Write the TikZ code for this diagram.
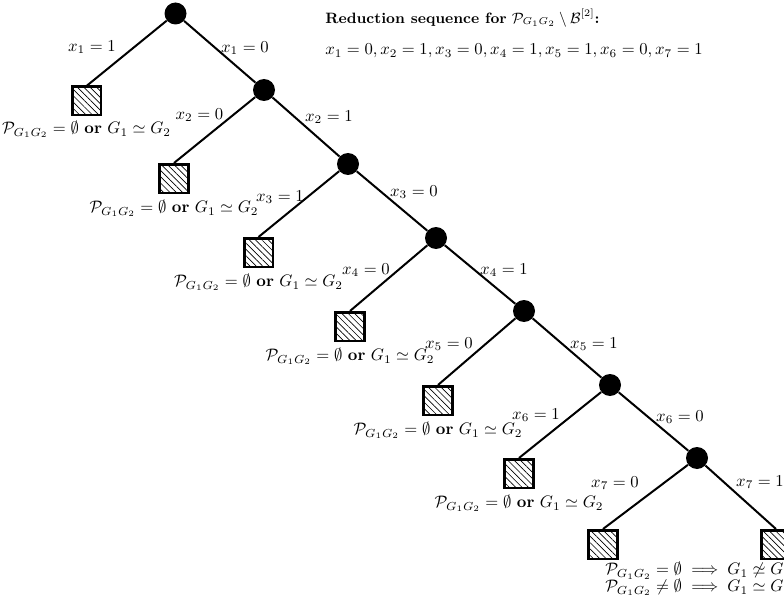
\documentclass[tikz,border=0pt]{standalone}
\usepackage{amsmath,amssymb}
\usetikzlibrary{patterns.meta}
\begin{document}
\begin{tikzpicture}[x=0.6pt,y=-0.6pt,
  inode/.style={circle,fill=black,minimum size=13.2pt,inner sep=0pt},
  leaf/.style={draw,line width=1.6pt,pattern={Lines[angle=-45,distance=2.7pt,line width=0.4pt]},minimum size=17.2pt,inner sep=0pt,anchor=north},
  tedge/.style={line width=1.2pt},
  elab/.style={inner sep=0pt}]
\useasboundingbox (0,0) rectangle (784,608);
\newcommand{\leaftext}{$\mathcal{P}_{G_1G_2}=\emptyset$ \textbf{or} $G_1\simeq G_2$}
% internal nodes
\node[inode] (n0) at (175.5,13.5) {};
\node[inode] (n1) at (264,90) {};
\node[inode] (n2) at (348,164) {};
\node[inode] (n3) at (436,238) {};
\node[inode] (n4) at (524,311) {};
\node[inode] (n5) at (610,385) {};
\node[inode] (n6) at (697,458) {};
% leaves
\node[leaf,label=below:{\leaftext}] (l1) at (86.5,86) {};
\node[leaf,label=below:{\leaftext}] (l2) at (174,163) {};
\node[leaf,label=below:{\leaftext}] (l3) at (258.5,237) {};
\node[leaf,label=below:{\leaftext}] (l4) at (350,311) {};
\node[leaf,label=below:{\leaftext}] (l5) at (438,385) {};
\node[leaf,label=below:{\leaftext}] (l6) at (519,458) {};
\node[leaf] (l7) at (603,529) {};
\node[leaf] (l8) at (776,529) {};
\node[anchor=north west,align=left,inner sep=0pt] (fin) at (605,562)
  {$\mathcal{P}_{G_1G_2}=\emptyset\implies G_1\not\simeq G_2$\\[-2pt]
   $\mathcal{P}_{G_1G_2}\neq\emptyset\implies G_1\simeq G_2$};
% edges
\draw[tedge] (n0) -- (l1.north);
\draw[tedge] (n0) -- (n1);
\draw[tedge] (n1) -- (l2.north);
\draw[tedge] (n1) -- (n2);
\draw[tedge] (n2) -- (l3.north);
\draw[tedge] (n2) -- (n3);
\draw[tedge] (n3) -- (l4.north);
\draw[tedge] (n3) -- (n4);
\draw[tedge] (n4) -- (l5.north);
\draw[tedge] (n4) -- (n5);
\draw[tedge] (n5) -- (l6.north);
\draw[tedge] (n5) -- (n6);
\draw[tedge] (n6) -- (l7.north);
\draw[tedge] (n6) -- (l8.north);
% edge labels
\node[elab] (e1a) at (92,47) {$x_1=1$};
\node[elab] (e1b) at (245,48) {$x_1=0$};
\node[elab] (e2a) at (199.5,115) {$x_2=0$};
\node[elab] (e2b) at (329,117) {$x_2=1$};
\node[elab] (e3a) at (280,197) {$x_3=1$};
\node[elab] (e3b) at (414,192) {$x_3=0$};
\node[elab] (e4a) at (366,270) {$x_4=0$};
\node[elab] (e4b) at (504,270) {$x_4=1$};
\node[elab] (e5a) at (449,344) {$x_5=0$};
\node[elab] (e5b) at (594,344) {$x_5=1$};
\node[elab] (e6a) at (536,415) {$x_6=1$};
\node[elab] (e6b) at (680,417) {$x_6=0$};
\node[elab] (e7a) at (615,483) {$x_7=0$};
\node[elab] (e7b) at (760,482) {$x_7=1$};
% title
\node[anchor=west,inner sep=0pt,font=\small] (title) at (325,18)
  {\textbf{Reduction sequence for} $\mathcal{P}_{G_1G_2}\setminus\mathcal{B}^{[2]}$\textbf{:}};
\node[anchor=west,inner sep=0pt] (seq) at (325,51)
  {$x_1=0,x_2=1,x_3=0,x_4=1,x_5=1,x_6=0,x_7=1$};
\end{tikzpicture}
\end{document}
